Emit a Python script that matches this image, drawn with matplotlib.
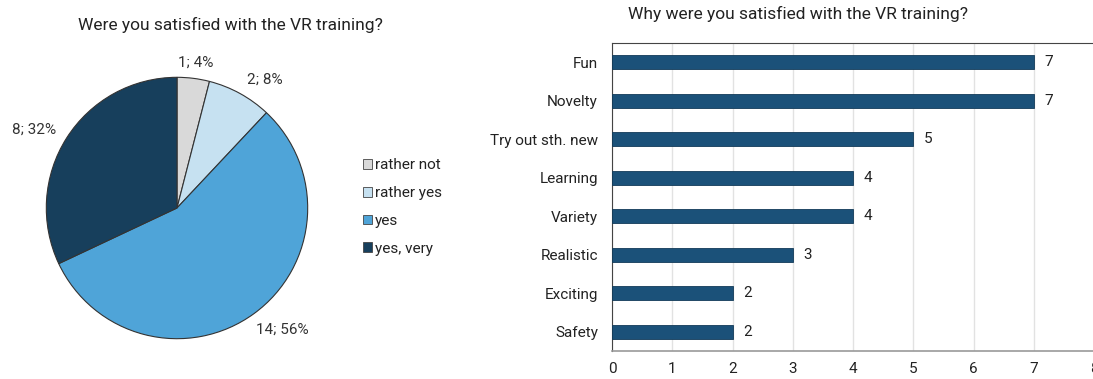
import matplotlib.pyplot as plt
import numpy as np

plt.rcParams['font.family'] = ['Roboto', 'DejaVu Sans']

# Satisfaction answers (pie)
answers = ['rather not', 'rather yes', 'yes', 'yes, very']
counts = [1, 2, 14, 8]
pie_colors = ['#d9d9d9', '#c6e1f1', '#4fa4d8', '#173f5c']

# Reasons for satisfaction (bars)
reasons = ['Fun', 'Novelty', 'Try out sth. new', 'Learning', 'Variety',
           'Realistic', 'Exciting', 'Safety']
mentions = [7, 7, 5, 4, 4, 3, 2, 2]

# label placement around the pie: radius and angular nudge (deg) per slice
label_radius = [1.12, 1.19, 1.23, 1.25]
label_nudge = [0, -5.6, 4.7, 3.8]

fig = plt.figure(figsize=(10.93, 3.79), dpi=100)

# Pie chart
ax1 = fig.add_axes([45 / 1093, 39 / 379, 264 / 1093, 264 / 379])
total = sum(counts)
wedges, _ = ax1.pie(counts, colors=pie_colors, startangle=90,
                    counterclock=False,
                    wedgeprops=dict(edgecolor='#333333', linewidth=0.8))
for w, c, r, d in zip(wedges, counts, label_radius, label_nudge):
    mid = np.deg2rad((w.theta1 + w.theta2) / 2 + d)
    ax1.text(r * np.cos(mid), r * np.sin(mid),
             '%d; %d%%' % (c, round(100 * c / total)),
             ha='center', va='center', fontsize=11, color='#333333')
ax1.set_xlim(-1.01, 1.01)
ax1.set_ylim(-1.01, 1.01)
fig.text(230 / 1093, 1 - 25 / 379, 'Were you satisfied with the VR training?',
         ha='center', va='center', fontsize=12.5, color='#222222')
leg = fig.legend(wedges, answers, loc='center left',
                 bbox_to_anchor=(349 / 1093, 1 - 207 / 379), frameon=False,
                 fontsize=11, handlelength=0.6, handleheight=0.6,
                 handletextpad=0.2, labelspacing=0.9, labelcolor='#222222')
for h in leg.legend_handles:
    h.set_edgecolor('#444444')
    h.set_linewidth(0.6)

# Horizontal bar chart
ax2 = fig.add_axes([612 / 1093, 28 / 379, 482 / 1093, 308 / 379])
y = np.arange(len(reasons))
ax2.barh(y, mentions, height=0.37, color='#1b5179', edgecolor='#123a58',
         linewidth=0.6, zorder=3)
for yi, v in zip(y, mentions):
    ax2.text(v + 0.18, yi, str(v), va='center', ha='left', fontsize=11,
             color='#222222')
ax2.set_yticks(y)
ax2.set_yticklabels(reasons, fontsize=11, color='#222222')
ax2.set_ylim(len(reasons) - 0.5, -0.5)
ax2.set_xlim(0, 8)
ax2.set_xticks(range(9))
ax2.tick_params(axis='x', labelsize=11, colors='#222222', length=0, pad=8)
ax2.tick_params(axis='y', length=0, pad=10)
ax2.grid(axis='x', color='#e2e2e2', linewidth=1, zorder=0)
for side in ['top', 'left']:
    ax2.spines[side].set_color('#444444')
    ax2.spines[side].set_linewidth(0.8)
ax2.spines['bottom'].set_color('#999999')
ax2.spines['bottom'].set_linewidth(1.2)
ax2.spines['right'].set_visible(False)
ax2.set_title('Why were you satisfied with the VR training?', fontsize=12.5,
              color='#222222', pad=17, x=0.385)

fig.savefig('out.png', dpi=100)
